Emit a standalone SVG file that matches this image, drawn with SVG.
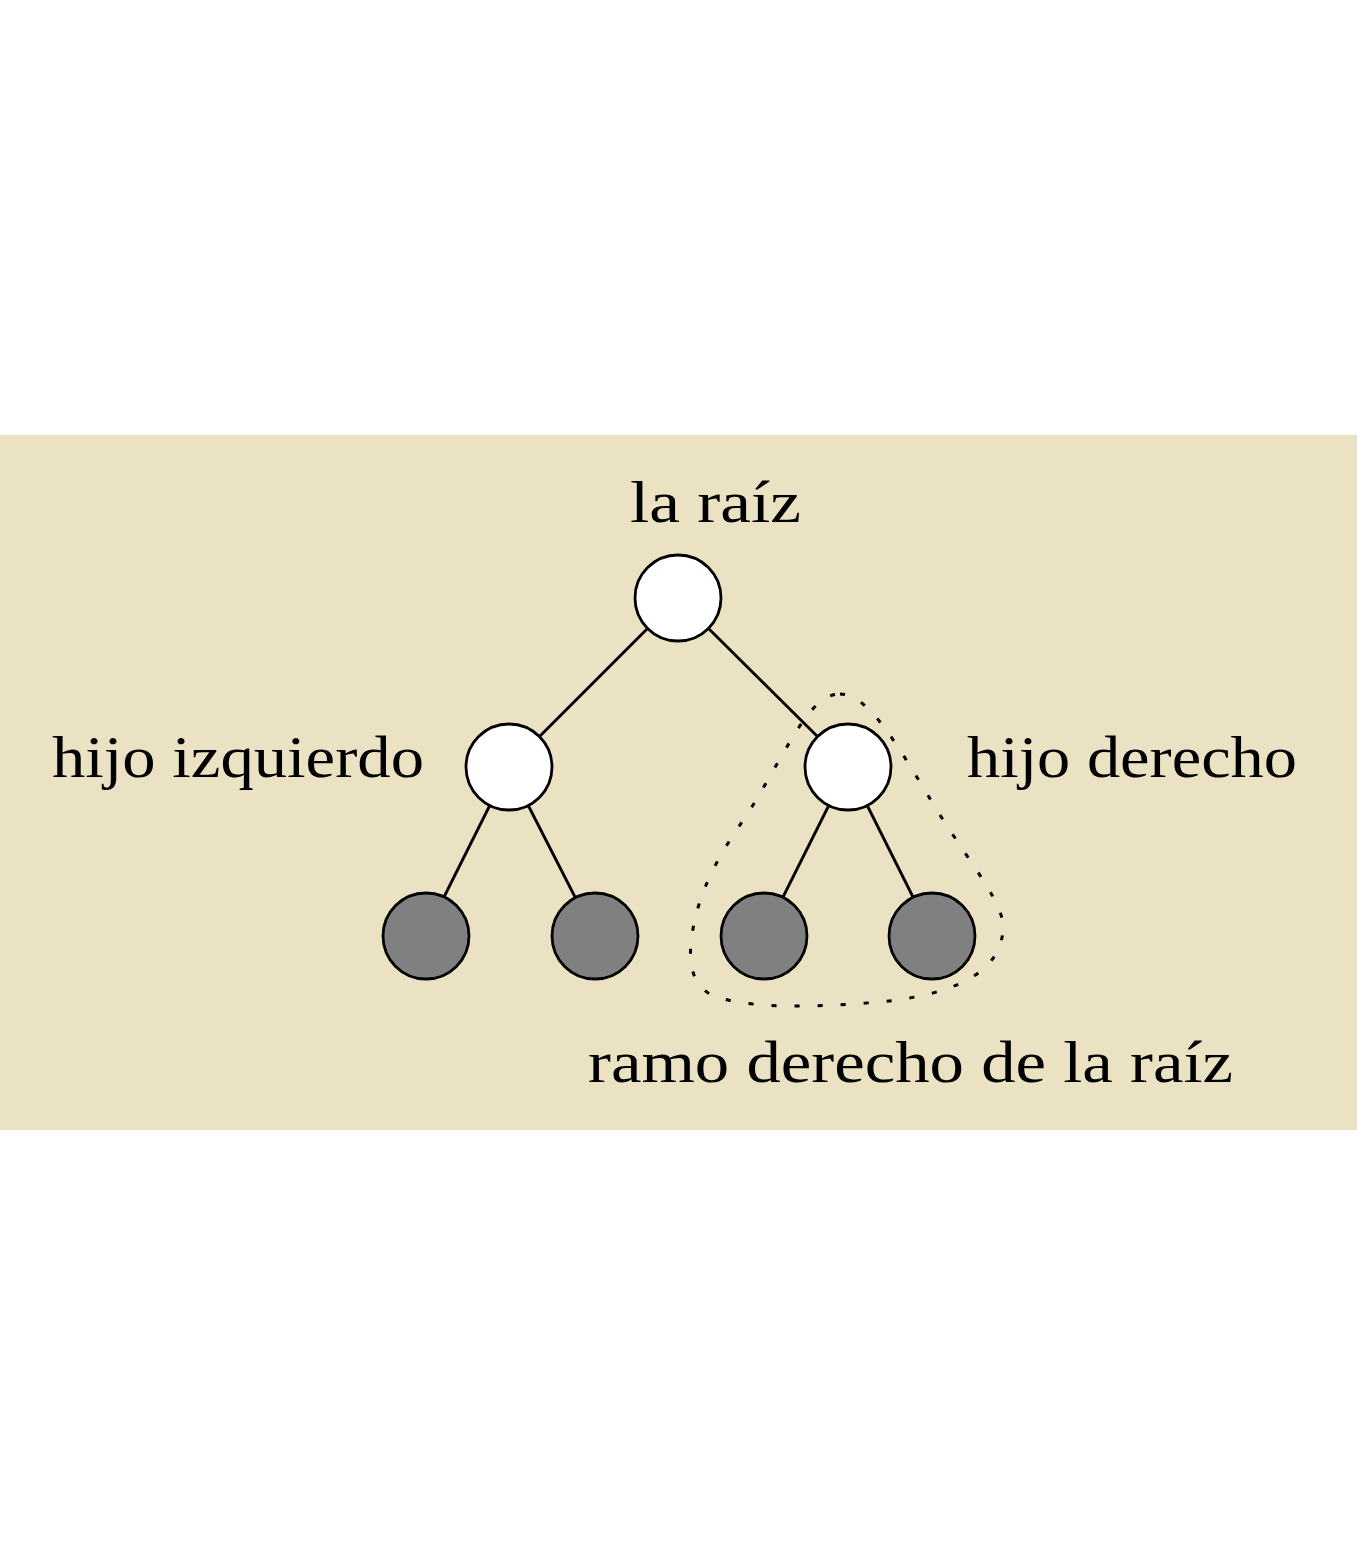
<svg xmlns="http://www.w3.org/2000/svg" width="1357" height="1565" viewBox="0 0 1357 1565">
<style>
.lbl{font-family:"Liberation Serif","DejaVu Serif",serif;font-size:60px;fill:#000}
.n{stroke:#000;stroke-width:2.8}
.w{fill:#fff}
.g{fill:#808080}
.e{stroke:#000;stroke-width:2.8;fill:none}
.dot{stroke:#000;stroke-width:3;fill:none;stroke-dasharray:5 18}
</style>
<rect x="0" y="0" width="1357" height="1565" fill="#fff"/>
<rect x="0" y="435" width="1357" height="695" fill="#EBE2C4"/>
<g id="connectors">
<line class="e" x1="648" y1="628" x2="539" y2="737"/>
<line class="e" x1="708" y1="628" x2="818" y2="737"/>
<line class="e" x1="490" y1="805" x2="444" y2="897"/>
<line class="e" x1="528" y1="805" x2="575" y2="897"/>
<line class="e" x1="829" y1="805" x2="783" y2="897"/>
<line class="e" x1="867" y1="805" x2="913" y2="897"/>
</g>
<g id="subtree-outline">
<path class="dot" d="M 840,694 C 870,694 900,750 940,815 C 975,870 1005,905 1003,930 C 1000,975 950,995 880,1002 C 830,1006 760,1010 720,998 C 690,990 688,960 692,935 C 700,880 730,840 750,810 C 790,745 810,694 840,694 Z"/>
</g>
<g id="root"><circle class="n w" cx="678" cy="598" r="43"/></g>
<g id="left-child"><circle class="n w" cx="509" cy="767" r="43"/></g>
<g id="right-child"><circle class="n w" cx="848" cy="767" r="43"/></g>
<g id="leaf1"><circle class="n g" cx="426" cy="936" r="43"/></g>
<g id="leaf2"><circle class="n g" cx="595" cy="936" r="43"/></g>
<g id="leaf3"><circle class="n g" cx="764" cy="936" r="43"/></g>
<g id="leaf4"><circle class="n g" cx="932" cy="936" r="43"/></g>
<g id="labels">
<text class="lbl" x="630" y="522" textLength="171" lengthAdjust="spacingAndGlyphs">la raíz</text>
<text class="lbl" x="52" y="777" textLength="372" lengthAdjust="spacingAndGlyphs">hijo izquierdo</text>
<text class="lbl" x="967" y="777" textLength="330" lengthAdjust="spacingAndGlyphs">hijo derecho</text>
<text class="lbl" x="588" y="1082" textLength="645" lengthAdjust="spacingAndGlyphs">ramo derecho de la raíz</text>
</g>
</svg>
